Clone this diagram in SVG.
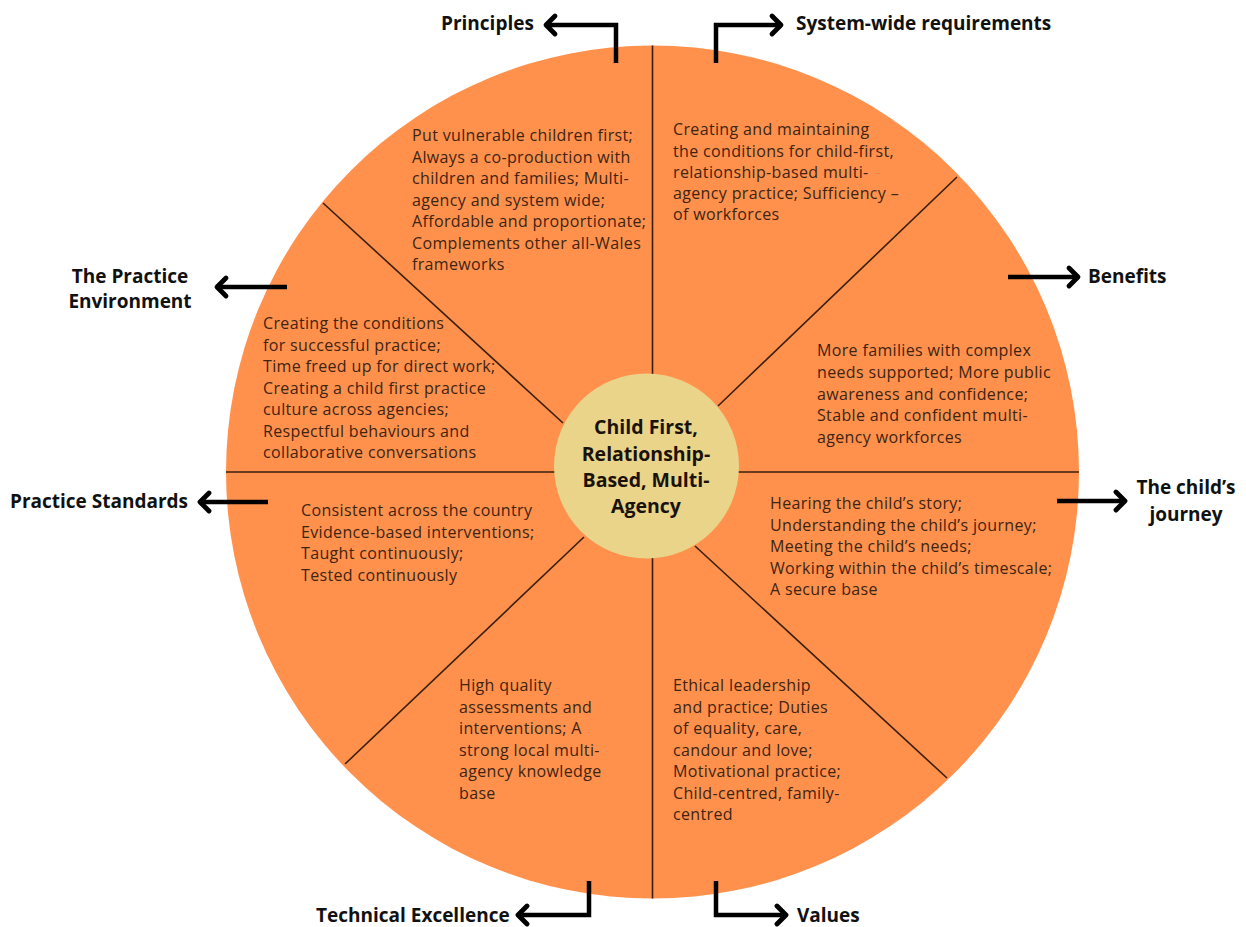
<svg xmlns="http://www.w3.org/2000/svg" width="1246" height="927" viewBox="0 0 1246 927">
<defs>
<marker id="chev" markerUnits="userSpaceOnUse" markerWidth="30" markerHeight="30" viewBox="-15 -15 30 30" refX="0" refY="0" orient="auto" overflow="visible">
<path d="M-9,-9 L0,0 L-9,9" fill="none" stroke="#000" stroke-width="4.8" stroke-linecap="round" stroke-linejoin="round"/>
</marker>
</defs>
<style>
.body{font-family:"Open Sans","Liberation Sans",sans-serif;font-size:16px;letter-spacing:0.35px;fill:#3e2412}
.head{font-family:"Open Sans","Liberation Sans",sans-serif;font-size:19px;font-weight:bold;fill:#111}
.core{font-family:"Open Sans","Liberation Sans",sans-serif;font-size:19.5px;font-weight:bold;fill:#1a1208}
.div{stroke:#3a1f0e;stroke-width:1.6;fill:none}
.arr{stroke:#000;stroke-width:4.5;fill:none;stroke-linejoin:miter;marker-end:url(#chev)}
</style>
<rect width="1246" height="927" fill="#fff"/>
<g id="wheel">
<circle cx="652.5" cy="472" r="426.5" fill="#FF914D"/>
</g>
<g id="dividers">
<line class="div" x1="652.5" y1="45.5" x2="652.5" y2="898.5"/>
<line class="div" x1="226" y1="472" x2="1079" y2="472" stroke-width="2.2"/>
<line class="div" x1="323" y1="203" x2="563" y2="423"/>
<line class="div" x1="957" y1="177" x2="718" y2="406"/>
<line class="div" x1="345" y1="764" x2="584" y2="537"/>
<line class="div" x1="947" y1="778" x2="695" y2="546"/>
</g>
<g id="core">
<circle cx="646.5" cy="466" r="92.5" fill="#E9D48A"/>
<text class="core" text-anchor="middle"><tspan x="646" y="434">Child First,</tspan><tspan x="646" y="461">Relationship-</tspan><tspan x="646" y="487">Based, Multi-</tspan><tspan x="646" y="513">Agency</tspan></text>
</g>
<g id="connectors">
<path class="arr" d="M616,63 L616,25 L546,25"/>
<path class="arr" d="M716,63 L716,25 L781,25"/>
<path class="arr" d="M287,287 L217,287"/>
<path class="arr" d="M1008,277 L1078,277"/>
<path class="arr" d="M268,502 L200,502"/>
<path class="arr" d="M1057,501 L1125,501"/>
<path class="arr" d="M589,881 L589,915 L518,915"/>
<path class="arr" d="M716,881 L716,915 L786,915"/>
</g>
<g id="principles">
<text class="head" x="441" y="30">Principles</text>
<text class="body"><tspan x="412" y="141">Put vulnerable children first;</tspan><tspan x="412" y="162.5">Always a co-production with</tspan><tspan x="412" y="184">children and families; Multi-</tspan><tspan x="412" y="205.5">agency and system wide;</tspan><tspan x="412" y="227">Affordable and proportionate;</tspan><tspan x="412" y="248.5">Complements other all-Wales</tspan><tspan x="412" y="270">frameworks</tspan></text>
</g>
<g id="system-wide">
<text class="head" x="796" y="30">System-wide requirements</text>
<text class="body"><tspan x="673" y="135">Creating and maintaining</tspan><tspan x="673" y="156.5">the conditions for child-first,</tspan><tspan x="673" y="178">relationship-based multi-</tspan><tspan x="673" y="199">agency practice; Sufficiency –</tspan><tspan x="673" y="220">of workforces</tspan></text>
</g>
<g id="practice-environment">
<text class="head" text-anchor="middle"><tspan x="130" y="283">The Practice</tspan><tspan x="130" y="308">Environment</tspan></text>
<text class="body"><tspan x="263" y="329">Creating the conditions</tspan><tspan x="263" y="350.5">for successful practice;</tspan><tspan x="263" y="372">Time freed up for direct work;</tspan><tspan x="263" y="393.5">Creating a child first practice</tspan><tspan x="263" y="415">culture across agencies;</tspan><tspan x="263" y="436.5">Respectful behaviours and</tspan><tspan x="263" y="458">collaborative conversations</tspan></text>
</g>
<g id="benefits">
<text class="head" x="1088" y="283">Benefits</text>
<text class="body"><tspan x="817" y="356">More families with complex</tspan><tspan x="817" y="378">needs supported; More public</tspan><tspan x="817" y="399.5">awareness and confidence;</tspan><tspan x="817" y="421">Stable and confident multi-</tspan><tspan x="817" y="443">agency workforces</tspan></text>
</g>
<g id="practice-standards">
<text class="head" x="10" y="508">Practice Standards</text>
<text class="body"><tspan x="301" y="516">Consistent across the country</tspan><tspan x="301" y="537.5">Evidence-based interventions;</tspan><tspan x="301" y="559">Taught continuously;</tspan><tspan x="301" y="580.5">Tested continuously</tspan></text>
</g>
<g id="childs-journey">
<text class="head" text-anchor="middle"><tspan x="1186" y="494">The child’s</tspan><tspan x="1186" y="521">journey</tspan></text>
<text class="body"><tspan x="770" y="509">Hearing the child’s story;</tspan><tspan x="770" y="530.5">Understanding the child’s journey;</tspan><tspan x="770" y="552">Meeting the child’s needs;</tspan><tspan x="770" y="573.5">Working within the child’s timescale;</tspan><tspan x="770" y="595">A secure base</tspan></text>
</g>
<g id="technical-excellence">
<text class="head" x="316" y="922">Technical Excellence</text>
<text class="body"><tspan x="459" y="691">High quality</tspan><tspan x="459" y="712.5">assessments and</tspan><tspan x="459" y="734">interventions; A</tspan><tspan x="459" y="755.5">strong local multi-</tspan><tspan x="459" y="777">agency knowledge</tspan><tspan x="459" y="798.5">base</tspan></text>
</g>
<g id="values">
<text class="head" x="797" y="922">Values</text>
<text class="body"><tspan x="673" y="691">Ethical leadership</tspan><tspan x="673" y="712.5">and practice; Duties</tspan><tspan x="673" y="734">of equality, care,</tspan><tspan x="673" y="755.5">candour and love;</tspan><tspan x="673" y="777">Motivational practice;</tspan><tspan x="673" y="798.5">Child-centred, family-</tspan><tspan x="673" y="820">centred</tspan></text>
</g>
</svg>
